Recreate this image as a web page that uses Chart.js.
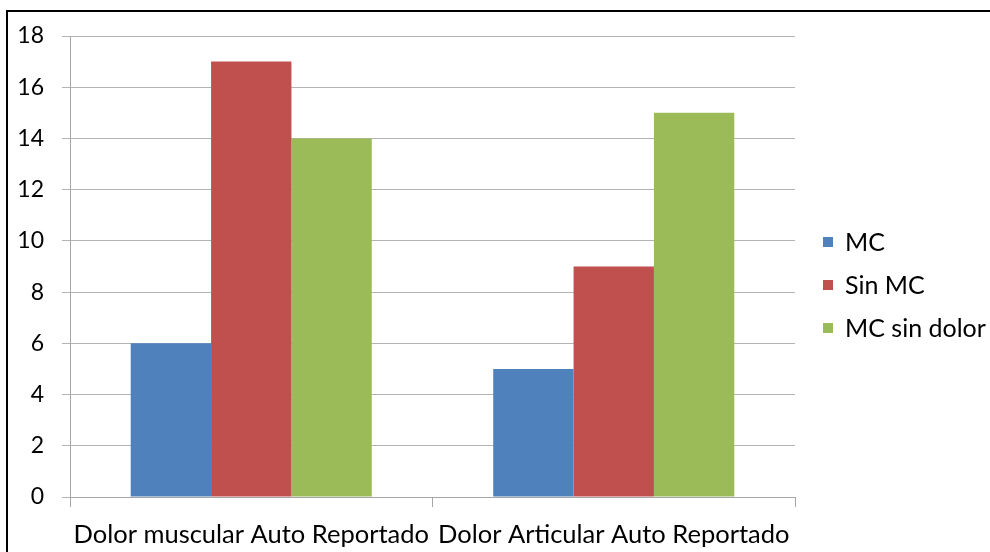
<!DOCTYPE html>
<html>
<head>
<meta charset="utf-8">
<script src="https://cdn.jsdelivr.net/npm/chart.js@4/dist/chart.umd.min.js"></script>
<style>
  html, body { margin: 0; padding: 0; background: #fff; overflow: hidden; }
  #wrap { position: relative; width: 990px; height: 552px; }
  #frame { position: absolute; left: 6px; top: 10px; width: 1000px; height: 600px;
           border: 2px solid #000; box-sizing: border-box; pointer-events: none; }
</style>
</head>
<body>
<div id="wrap">
  <canvas id="c" width="990" height="552"></canvas>
  <div id="frame"></div>
</div>
<script>
const categories = ['Dolor muscular Auto Reportado', 'Dolor Articular Auto Reportado'];
const seriesNames = ['MC', 'Sin MC', 'MC sin dolor'];
const mcValues = [6, 5];
const sinMcValues = [17, 9];
const mcSinDolorValues = [14, 15];
const seriesColors = ['#4F81BD', '#C0504D', '#9BBB59'];
const yTicks = [0, 2, 4, 6, 8, 10, 12, 14, 16, 18];

const FONT = 'Lato, "Open Sans", sans-serif';

// Legend drawn to the right of the plot area
const sideLegend = {
  id: 'sideLegend',
  afterDraw(chart) {
    const ctx = chart.ctx;
    const area = chart.chartArea;
    const x = area.right + 28;
    const rowGap = 43;
    const y0 = 242;
    ctx.save();
    ctx.font = '25px ' + FONT;
    ctx.textBaseline = 'middle';
    ctx.textAlign = 'left';
    chart.data.datasets.forEach((ds, i) => {
      const cy = y0 + i * rowGap;
      ctx.fillStyle = ds.backgroundColor;
      ctx.fillRect(x, cy - 5, 10, 10);
      ctx.fillStyle = '#000';
      ctx.fillText(ds.label, x + 22, cy + 1);
    });
    ctx.restore();
  }
};

new Chart(document.getElementById('c'), {
  type: 'bar',
  data: {
    labels: categories,
    datasets: [
      { label: seriesNames[0], data: mcValues, backgroundColor: seriesColors[0] },
      { label: seriesNames[1], data: sinMcValues, backgroundColor: seriesColors[1] },
      { label: seriesNames[2], data: mcSinDolorValues, backgroundColor: seriesColors[2] }
    ]
  },
  options: {
    responsive: false,
    animation: false,
    layout: { padding: { top: 36, right: 195, left: 0, bottom: 0 } },
    datasets: { bar: { categoryPercentage: 0.665, barPercentage: 1.0, borderWidth: 0 } },
    plugins: {
      legend: { display: false },
      tooltip: { enabled: false }
    },
    scales: {
      x: {
        offset: true,
        grid: { offset: true, drawOnChartArea: false, color: '#a6a6a6', tickLength: 10, lineWidth: 1 },
        border: { color: '#a6a6a6', width: 1 },
        ticks: { color: '#000', font: { family: FONT, size: 25.5 }, padding: 12, maxRotation: 0 },
        afterFit(scale) { scale.height = 55; }
      },
      y: {
        min: 0,
        max: 18,
        afterBuildTicks(scale) { scale.ticks = yTicks.map(v => ({ value: v })); },
        grid: { color: '#b4b4b4', tickLength: 8, lineWidth: 1 },
        border: { color: '#a6a6a6', width: 1 },
        ticks: { color: '#000', font: { family: FONT, size: 23 }, padding: 18 },
        afterFit(scale) { scale.width = 70; }
      }
    }
  },
  plugins: [sideLegend]
});
</script>
</body>
</html>
